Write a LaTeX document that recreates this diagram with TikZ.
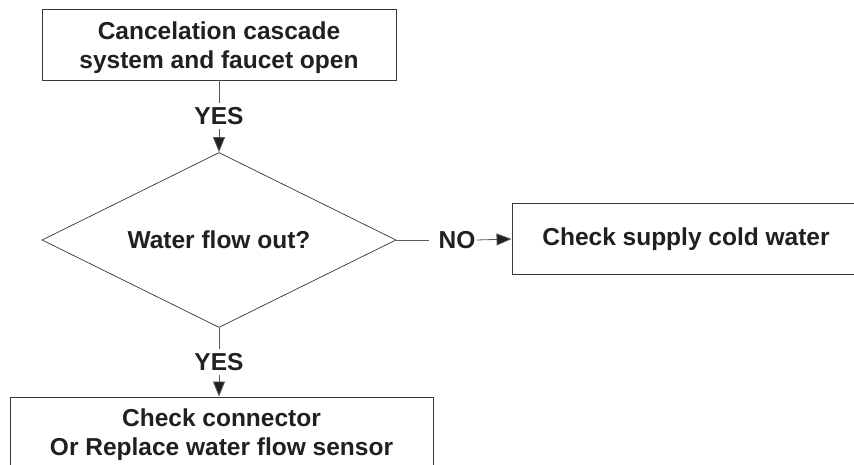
\documentclass[tikz,border=0pt]{standalone}
\usepackage{fontspec}
\setmainfont{Liberation Sans}
\usetikzlibrary{shapes.geometric,arrows.meta}
\definecolor{ink}{HTML}{231F20}
\definecolor{wire}{HTML}{5A5A5A}
\tikzset{
  txt/.style={font=\bfseries\fontsize{24.5}{29.5}\selectfont, text=ink, align=center},
  stepbox/.style={txt, draw=ink!90, line width=0.9pt, rectangle, inner sep=0pt, minimum height=71pt},
  decision/.style={txt, draw=ink!90, line width=0.7pt, diamond, aspect=2, inner sep=0pt, minimum width=354pt, minimum height=175pt},
  lbl/.style={txt, inner xsep=1pt, inner ysep=0pt, text height=17.5pt, text depth=0pt, minimum height=26pt},
  wireline/.style={draw=wire, line width=0.8pt},
  flow/.style={wireline, -{Triangle[length=15pt 0 0,width=12pt 0 0,fill=ink]}, shorten >=0pt}
}
\begin{document}
\begin{tikzpicture}[x=1pt,y=-1pt]
\useasboundingbox (0,0) rectangle (854,465);
\clip (0,0) rectangle (854,465);
\fill[white] (0,0) rectangle (854,465);
\node[stepbox, minimum width=354pt] (start) at (219,44.5) {\raisebox{-3.5pt}[\height][\depth]{\begin{tabular}{@{}c@{}}Cancelation cascade\\system and faucet open\end{tabular}}};
\node[lbl] (yes1) at (219,116) {YES};
\node[decision] (dec) at (219,240) {Water flow out?};
\node[lbl] (no) at (457,240) {NO};
\node[stepbox, minimum width=348pt] (cold) at (686,239) {Check supply cold water};
\node[lbl] (yes2) at (219,362) {YES};
\node[stepbox, minimum width=423pt, minimum height=70pt] (sensor) at (221.5,432) {\raisebox{-3pt}[\height][\depth]{\begin{tabular}{@{}c@{}}Check connector\\Or Replace water flow sensor\end{tabular}}};
\draw[wireline] (start.south) -- (yes1.north);
\draw[flow] (yes1.south) -- (dec.north);
\draw[wireline] (dec.south) -- (yes2.north);
\draw[flow] (yes2.south) -- (sensor.north -| yes2.south);
\draw[wireline] (dec.east) -- ([xshift=-8pt]no.west);
\draw[flow] (no.east) -- (cold.west);
\end{tikzpicture}
\end{document}
